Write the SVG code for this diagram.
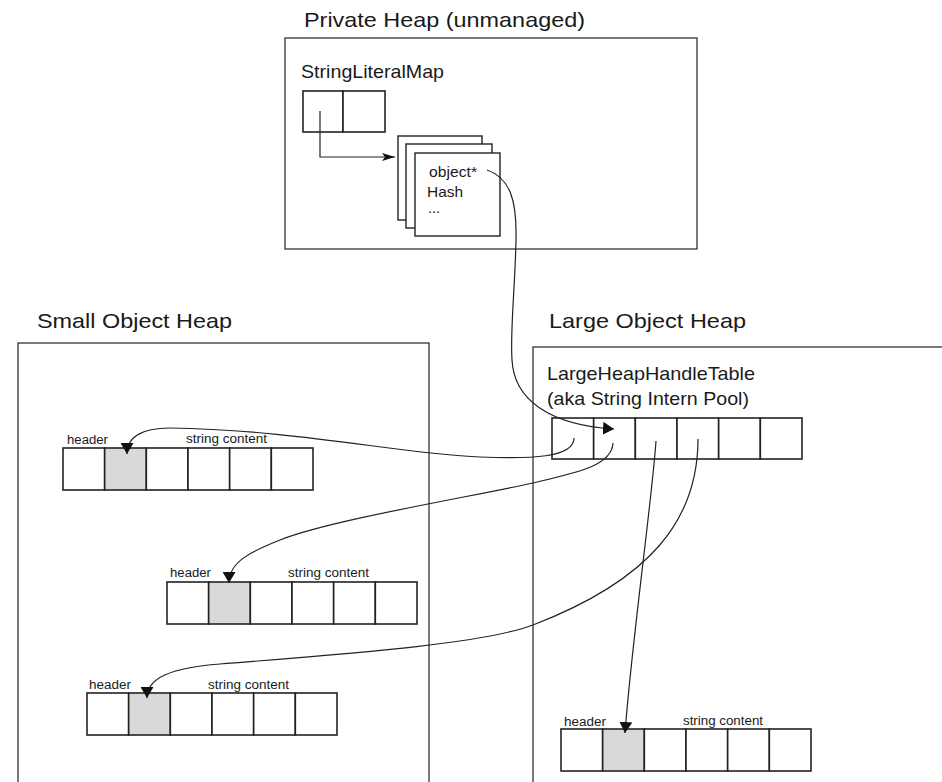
<svg xmlns="http://www.w3.org/2000/svg" width="942" height="782" viewBox="0 0 942 782">
<style>
  .box { fill: #fff; stroke: #333; stroke-width: 1.3; }
  .cell { fill: #fff; stroke: #222; stroke-width: 1.6; }
  .hdr { fill: #d9d9d9; stroke: #222; stroke-width: 1.6; }
  .card { fill: #fff; stroke: #222; stroke-width: 1.4; }
  .conn { fill: none; stroke: #222; stroke-width: 1.2; }
  text { font-family: "Liberation Sans", Arial, sans-serif; fill: #1a1a1a; }
  .title { font-size: 21px; }
  .label { font-size: 18.5px; }
  .small { font-size: 14.5px; }
  .tiny { font-size: 12.5px; }
</style>
<defs>
  <marker id="tri" viewBox="0 0 11 13" refX="11" refY="6.5" markerWidth="11" markerHeight="13" markerUnits="userSpaceOnUse" orient="auto">
    <path d="M0,0 L11,6.5 L0,13 z" fill="#111"/>
  </marker>
  <marker id="sharp" viewBox="0 0 13 8" refX="13" refY="4" markerWidth="13" markerHeight="8" markerUnits="userSpaceOnUse" orient="auto">
    <path d="M0,0 L13,4 L0,8 L3,4 z" fill="#111"/>
  </marker>
  <g id="row6">
    <rect class="cell" x="0" y="0" width="41.67" height="42"/>
    <rect class="hdr" x="41.67" y="0" width="41.67" height="42"/>
    <rect class="cell" x="83.33" y="0" width="41.67" height="42"/>
    <rect class="cell" x="125" y="0" width="41.67" height="42"/>
    <rect class="cell" x="166.67" y="0" width="41.67" height="42"/>
    <rect class="cell" x="208.33" y="0" width="41.67" height="42"/>
  </g>
</defs>

<rect x="0" y="0" width="942" height="782" fill="#fff"/>

<g id="private-heap">
  <text class="title" x="304" y="27" textLength="281" lengthAdjust="spacingAndGlyphs">Private Heap (unmanaged)</text>
  <rect class="box" x="285" y="38" width="412" height="211"/>
</g>

<g id="string-literal-map">
  <text class="label" x="301" y="78" textLength="143" lengthAdjust="spacingAndGlyphs">StringLiteralMap</text>
  <rect class="cell" x="303" y="91" width="40" height="41"/>
  <rect class="cell" x="343" y="91" width="42" height="41"/>
</g>

<g id="buckets">
  <rect class="card" x="398" y="136" width="84" height="84"/>
  <rect class="card" x="406" y="144" width="86" height="84"/>
  <rect class="card" x="415" y="153" width="85" height="83"/>
  <text class="small" x="429" y="177" textLength="48" lengthAdjust="spacingAndGlyphs">object*</text>
  <text class="small" x="427" y="197" textLength="36" lengthAdjust="spacingAndGlyphs">Hash</text>
  <text class="small" x="428" y="213">...</text>
</g>

<g id="small-object-heap">
  <text class="title" x="37" y="328" textLength="195" lengthAdjust="spacingAndGlyphs">Small Object Heap</text>
  <rect class="box" x="18" y="343" width="411" height="460"/>
</g>

<g id="large-object-heap">
  <text class="title" x="549" y="328" textLength="197" lengthAdjust="spacingAndGlyphs">Large Object Heap</text>
  <rect class="box" x="533" y="347" width="430" height="460"/>
</g>

<g id="handle-table">
  <text class="label" x="547" y="380" textLength="208" lengthAdjust="spacingAndGlyphs">LargeHeapHandleTable</text>
  <text class="label" x="547" y="405" textLength="202" lengthAdjust="spacingAndGlyphs">(aka String Intern Pool)</text>
  <rect class="cell" x="552" y="418" width="41.67" height="41"/>
  <rect class="cell" x="593.67" y="418" width="41.67" height="41"/>
  <rect class="cell" x="635.33" y="418" width="41.67" height="41"/>
  <rect class="cell" x="677" y="418" width="41.67" height="41"/>
  <rect class="cell" x="718.67" y="418" width="41.67" height="41"/>
  <rect class="cell" x="760.33" y="418" width="41.67" height="41"/>
</g>

<g id="string-1">
  <text class="tiny" x="67" y="444" textLength="41" lengthAdjust="spacingAndGlyphs">header</text>
  <text class="tiny" x="186" y="443" textLength="81" lengthAdjust="spacingAndGlyphs">string content</text>
  <use href="#row6" x="63" y="448"/>
</g>

<g id="string-2">
  <text class="tiny" x="170" y="577" textLength="41" lengthAdjust="spacingAndGlyphs">header</text>
  <text class="tiny" x="288" y="577" textLength="81" lengthAdjust="spacingAndGlyphs">string content</text>
  <use href="#row6" x="167" y="582"/>
</g>

<g id="string-3">
  <text class="tiny" x="89" y="689" textLength="42" lengthAdjust="spacingAndGlyphs">header</text>
  <text class="tiny" x="208" y="689" textLength="81" lengthAdjust="spacingAndGlyphs">string content</text>
  <use href="#row6" x="87" y="693"/>
</g>

<g id="string-4">
  <text class="tiny" x="564" y="726" textLength="42" lengthAdjust="spacingAndGlyphs">header</text>
  <text class="tiny" x="683" y="725" textLength="80" lengthAdjust="spacingAndGlyphs">string content</text>
  <use href="#row6" x="561" y="729"/>
</g>

<g id="connectors">
  <path class="conn" d="M320,111 L320,157 L395,157" marker-end="url(#sharp)"/>
  <path class="conn" d="M487,170 C510,178 517,200 516,240 C515,290 510,330 512,360 C514,400 550,425 614,429" marker-end="url(#tri)"/>
  <path class="conn" d="M574,438 C574,458 530,459 480,457 C400,454 300,430 170,428 C140,428 127,438 127,454" marker-end="url(#tri)"/>
  <path class="conn" d="M613,443 C612,465 580,472 533,483 C470,497 330,520 280,540 C250,552 229,562 229,583" marker-end="url(#tri)"/>
  <path class="conn" d="M656,441 C652,500 632,640 625,733" marker-end="url(#tri)"/>
  <path class="conn" d="M698,439 C698,520 650,580 533,625 C480,645 330,655 220,664 C170,668 147,678 147,698" marker-end="url(#tri)"/>
</g>
</svg>
